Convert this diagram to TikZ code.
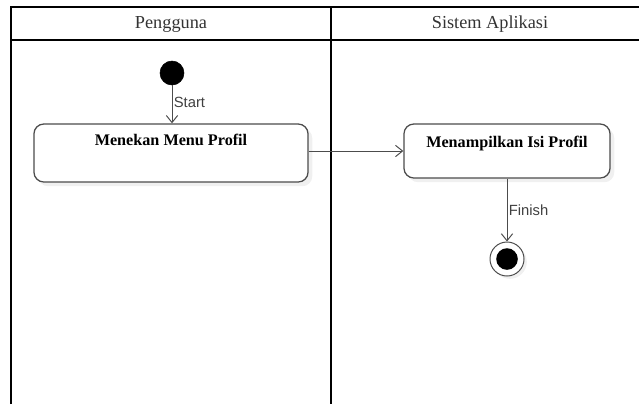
\documentclass[tikz,border=0pt]{standalone}
\usepackage{fontspec}
\setmainfont{Liberation Serif}
\setsansfont{Liberation Sans}
\usetikzlibrary{positioning}
\usetikzlibrary{arrows.meta}
\usetikzlibrary{shadows}

\begin{document}
\begin{tikzpicture}[x=0.025cm, y=-0.025cm,
    aksi/.style={draw=black!70, line width=0.9pt, rounded corners=7pt, fill=white,
        font=\fontsize{11.5}{13}\selectfont\bfseries, inner sep=0pt, text height=0.3cm,
        drop shadow={opacity=0.12, shadow xshift=3pt, shadow yshift=-3pt}},
    alur/.style={->, >={Straight Barb[length=5pt, width=8pt]}, draw=black!70, line width=0.7pt},
    ket/.style={font=\sffamily\fontsize{10.5}{12}\selectfont, text=black!75, inner sep=1pt}]
            \useasboundingbox (0,0) rectangle (639,404);
            % Lajur
            \draw[line width=1.4pt] (11,404) -- (11,7) -- (639,7);
            \draw[line width=1.4pt] (11,40) -- (639,40);
            \draw[line width=1.4pt] (331,7) -- (331,404);
            \node[font=\fontsize{13}{15}\selectfont, text=black!80] (pengguna) at (171,24) {Pengguna};
            \node[font=\fontsize{13}{15}\selectfont, text=black!80] (sistem) at (490,24) {Sistem Aplikasi};

            % Nodos
            \node[draw, circle, fill=black, minimum size=0.6cm, inner sep=0pt] (start) at (172,73) {};
            \node[aksi, minimum width=6.85cm, minimum height=1.45cm, text depth=0.7cm] (menu) at (171,153) {Menekan Menu Profil};
            \node[aksi, minimum width=5.15cm, minimum height=1.35cm, text depth=0.5cm] (isi) at (507,151) {Menampilkan Isi Profil};
            \node[draw=black!70, circle, fill=white, line width=0.7pt, minimum size=0.85cm, inner sep=0pt,
                drop shadow={opacity=0.12, shadow xshift=2pt, shadow yshift=-2pt}] (finish) at (507,259) {};
            \fill (finish.center) circle (0.27cm);

            % Aristas
            \draw[alur] (start) -- node[ket, right, pos=0.45] {Start} (menu.north -| start);
            \draw[alur] (menu.east |- isi.west) -- (isi.west);
            \draw[alur] (isi) -- node[ket, right] {Finish} (finish);
\end{tikzpicture}
\end{document}
